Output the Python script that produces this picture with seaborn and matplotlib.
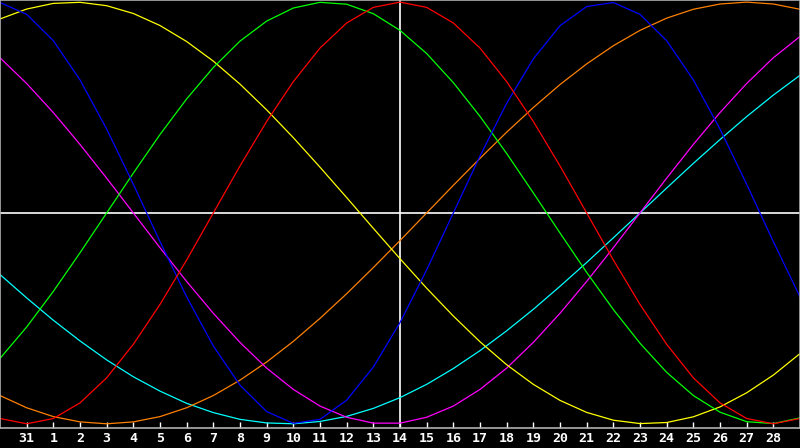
import matplotlib
matplotlib.use("Agg")
import matplotlib.pyplot as plt
import pandas as pd
import seaborn as sns

sns.set_style("dark")
plt.rcParams["font.family"] = ["DejaVu Sans Mono", "DejaVu Sans"]

# one point per day, 30 .. 31, 1 .. 29
day_labels = ["30", "31"] + [str(d) for d in range(1, 30)]

# values (-1 .. 1)
red = [-0.975, -1.0, -0.975, -0.901, -0.782, -0.623, -0.434, -0.223, 0.0, 0.223,
       0.434, 0.623, 0.782, 0.901, 0.975, 1.0, 0.975, 0.901, 0.782, 0.623,
       0.434, 0.223, 0.0, -0.223, -0.434, -0.623, -0.782, -0.901, -0.975, -1.0, -0.975]
green = [-0.690, -0.541, -0.372, -0.189, 0.0, 0.189, 0.372, 0.541, 0.690, 0.815,
         0.910, 0.972, 0.999, 0.990, 0.945, 0.866, 0.756, 0.618, 0.458, 0.282,
         0.095, -0.095, -0.282, -0.458, -0.618, -0.756, -0.866, -0.945, -0.990, -0.999, -0.972]
blue = [0.998, 0.942, 0.817, 0.631, 0.398, 0.136, -0.136, -0.398, -0.631, -0.817,
        -0.942, -0.998, -0.979, -0.888, -0.731, -0.520, -0.270, 0.0, 0.270, 0.520,
        0.731, 0.888, 0.979, 0.998, 0.942, 0.817, 0.631, 0.398, 0.136, -0.136, -0.398]
magenta = [0.736, 0.614, 0.476, 0.325, 0.165, 0.0, -0.165, -0.325, -0.476, -0.614,
           -0.736, -0.837, -0.916, -0.969, -0.997, -0.997, -0.969, -0.916, -0.837, -0.736,
           -0.614, -0.476, -0.325, -0.165, 0.0, 0.165, 0.325, 0.476, 0.614, 0.736, 0.837]
yellow = [0.920, 0.967, 0.994, 0.999, 0.983, 0.946, 0.889, 0.813, 0.720, 0.611,
          0.489, 0.357, 0.217, 0.073, -0.073, -0.217, -0.357, -0.489, -0.611, -0.720,
          -0.813, -0.889, -0.946, -0.983, -0.999, -0.994, -0.967, -0.920, -0.853, -0.769, -0.667]
orange = [-0.866, -0.924, -0.966, -0.991, -1.0, -0.991, -0.966, -0.924, -0.866, -0.793,
          -0.707, -0.609, -0.5, -0.383, -0.259, -0.131, 0.0, 0.131, 0.259, 0.383,
          0.5, 0.609, 0.707, 0.793, 0.866, 0.924, 0.966, 0.991, 1.0, 0.991, 0.966]
cyan = [-0.292, -0.403, -0.509, -0.607, -0.697, -0.777, -0.845, -0.903, -0.947, -0.979,
        -0.996, -1.0, -0.989, -0.965, -0.927, -0.876, -0.813, -0.738, -0.653, -0.559,
        -0.457, -0.348, -0.235, -0.118, 0.0, 0.118, 0.235, 0.348, 0.457, 0.559, 0.653]

series = {"cyan": cyan, "orange": orange, "magenta": magenta, "yellow": yellow,
          "green": green, "blue": blue, "red": red}
colors = {"cyan": "#00ffff", "orange": "#ff8000", "magenta": "#ff00ff", "yellow": "#ffff00",
          "green": "#00ff00", "blue": "#0000ff", "red": "#ff0000"}

rows = []
for name, vals in series.items():
    for i, v in enumerate(vals):
        rows.append({"day": i, "value": v, "cycle": name})
df = pd.DataFrame(rows)

fig = plt.figure(figsize=(8, 4.48), dpi=100, facecolor="black")
ax = fig.add_axes([0, 20 / 448, 1, 428 / 448])
ax.set_facecolor("black")

ax.axhline(0, color="white", lw=1.2, zorder=1)
ax.axvline(15, color="white", lw=1.2, zorder=1)

sns.lineplot(data=df, x="day", y="value", hue="cycle", palette=colors,
             hue_order=list(series.keys()), legend=False, lw=0.9, ax=ax, zorder=2)

ax.set_xlim(0, 30)
ax.set_ylim(-1.02, 1.01)
ax.set_xlabel("")
ax.set_ylabel("")
ax.grid(False)

ticks = list(range(1, 30))
ax.set_xticks(ticks)
ax.set_xticklabels([day_labels[t] for t in ticks], color="white",
                   fontsize=9.5, fontweight="bold")
ax.tick_params(axis="x", direction="in", length=4, width=1, color="white", pad=3, bottom=True)
ax.set_yticks([])

for s in ax.spines.values():
    s.set_visible(True)
    s.set_color("#b0b0b0")
    s.set_linewidth(1.2)

fig.savefig("out.png", dpi=100, facecolor="black")
